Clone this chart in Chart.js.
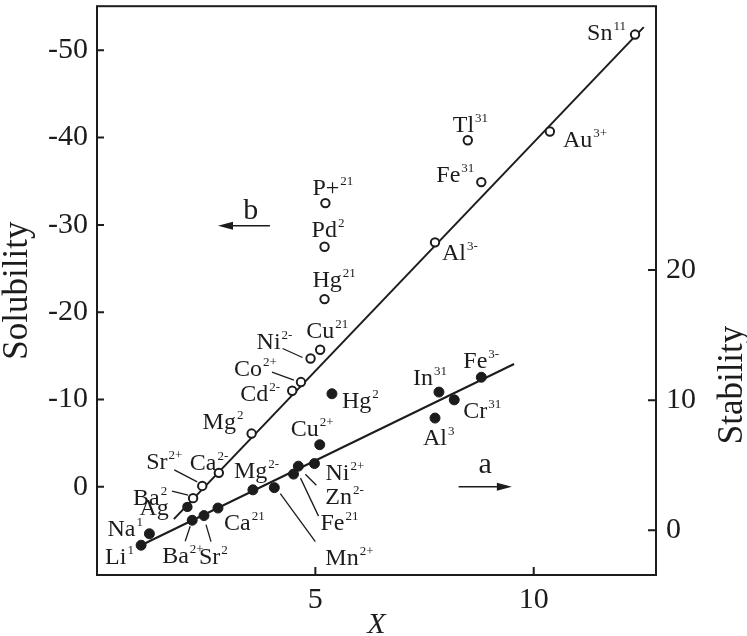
<!DOCTYPE html>
<html>
<head>
<meta charset="utf-8">
<script src="https://cdn.jsdelivr.net/npm/chart.js@4/dist/chart.umd.min.js"></script>
<style>
  html, body { margin: 0; padding: 0; background: #fff; }
</style>
</head>
<body>
<canvas id="chart" width="747" height="636"></canvas>
<script>
// line b (open circles) -> solubility, left axis
const solNames = ["Sn", "Au", "Tl", "Fe", "Al", "P+", "Pd", "Hg", "Cu", "Ni", "Co", "Cd", "Mg", "Ca", "Sr", "Ba", "Ag"];
const solCharges = ["11", "3+", "31", "31", "3-", "21", "2", "21", "21", "2-", "2+", "2-", "2", "2-", "2+", "2", ""];
const solX = [12.32, 10.37, 8.49, 8.80, 7.74, 5.23, 5.21, 5.21, 5.11, 4.89, 4.67, 4.47, 3.54, 2.79, 2.41, 2.20, 2.07];
const solY = [-51.8, -40.7, -39.7, -34.9, -28.0, -32.5, -27.5, -21.5, -15.7, -14.7, -12.0, -11.0, -6.1, -1.6, -0.1, 1.3, 2.3];

// line a (filled circles) -> stability, right axis
const stabNames = ["Li", "Na", "Ba", "Sr", "Ca", "Mg", "Mn", "Fe", "Zn", "Ni", "Cu", "Hg", "Al", "In", "Cr", "Fe"];
const stabCharges = ["1", "1", "2+", "2", "21", "2-", "2+", "21", "2-", "2+", "2+", "2", "3", "31", "31", "3-"];
const stabX = [1.01, 1.20, 2.18, 2.45, 2.77, 3.57, 4.06, 4.50, 4.61, 4.98, 5.10, 5.38, 7.74, 7.83, 8.18, 8.80];
const stabY = [-1.16, -0.28, 0.76, 1.12, 1.70, 3.10, 3.27, 4.31, 4.92, 5.12, 6.57, 10.49, 8.62, 10.62, 10.02, 11.76];

// fitted lines (end points)
const lineBX = [1.76, 12.52];
const lineBY = [3.7, -52.65];
const lineAX = [1.01, 9.55];
const lineAY = [-1.16, 12.78];

// tick labels
const xTicks = [5, 10];
const solTicks = [-50, -40, -30, -20, -10, 0];
const stabTicks = [0, 10, 20];

// label placement: [dx, dy] of text baseline from the point, optional leader line
const solLabelPos = [
  [-48, 5], [13, 16], [-15, -8], [-45, 0], [7, 18], [-13, -8], [-13, -10], [-12, -12],
  [-14, -12], [-54, -9, [-28, -10, -8, -1]], [-67, -6, [-29, -10, -7, -2]], [-52, 10],
  [-49, -5], [-29, -3], [-56, -17, [-28, -16, -5, -4]], [-60, 7, [-21, -7, -5, -3]], [-48, 8]
];
const stabLabelPos = [
  [-36, 19], [-42, 2], [-30, 43, [-7, 21, -2, 6]], [-5, 48, [7, 26, 2, 9]], [6, 22],
  [-19, -12], [51, 77, [41, 54, 6, 6]], [27, 56, [25, 42, 7, 4]], [27, 38, [18, 19, 7, 8]],
  [11, 16], [-29, -9], [10, 14], [-12, 27], [-26, -7], [9, 18], [-18, -9]
];

const ink = "#1c1c1c";
const serif = "'Liberation Serif', 'DejaVu Serif', serif";

function toPts(xs, ys) {
  return xs.map((x, i) => ({ x: x, y: ys[i] }));
}

function drawLabel(ctx, x, y, name, charge) {
  ctx.font = "24px " + serif;
  ctx.textAlign = "left";
  ctx.textBaseline = "alphabetic";
  ctx.fillText(name, x, y);
  const w = ctx.measureText(name).width;
  if (charge) {
    ctx.font = "13px " + serif;
    ctx.fillText(charge, x + w + 1, y - 10);
  }
}

function drawArrow(ctx, x0, x1, y) {
  const dir = x1 > x0 ? 1 : -1;
  ctx.lineWidth = 1.6;
  ctx.beginPath();
  ctx.moveTo(x0, y);
  ctx.lineTo(x1 - dir * 10, y);
  ctx.stroke();
  ctx.beginPath();
  ctx.moveTo(x1, y);
  ctx.lineTo(x1 - dir * 15, y - 4);
  ctx.lineTo(x1 - dir * 15, y + 4);
  ctx.closePath();
  ctx.fill();
}

// keep the plot box fixed: no extra room for half tick labels
function fixPad(s) {
  s.paddingTop = 0;
  s.paddingBottom = 0;
  s.paddingLeft = 0;
  s.paddingRight = 0;
}

const overlay = {
  id: "overlay",
  afterDatasetsDraw(chart) {
    const { ctx, chartArea: a, scales } = chart;
    const xs = scales.x, ys = scales.ySol, yt = scales.yStab;
    ctx.save();
    ctx.strokeStyle = ink;
    ctx.fillStyle = ink;

    // frame
    ctx.lineWidth = 2;
    ctx.strokeRect(a.left, a.top, a.right - a.left, a.bottom - a.top);

    // inward tick marks
    ctx.beginPath();
    solTicks.forEach(v => {
      const y = ys.getPixelForValue(v);
      ctx.moveTo(a.left, y);
      ctx.lineTo(a.left + 7, y);
    });
    stabTicks.forEach(v => {
      const y = yt.getPixelForValue(v);
      ctx.moveTo(a.right, y);
      ctx.lineTo(a.right - 8, y);
    });
    xTicks.forEach(v => {
      const x = xs.getPixelForValue(v);
      ctx.moveTo(x, a.bottom);
      ctx.lineTo(x, a.bottom - 8);
    });
    ctx.stroke();

    // leader lines + labels
    ctx.lineWidth = 1.3;
    solNames.forEach((n, i) => {
      const px = xs.getPixelForValue(solX[i]);
      const py = ys.getPixelForValue(solY[i]);
      const p = solLabelPos[i];
      if (p[2]) {
        ctx.beginPath();
        ctx.moveTo(px + p[2][0], py + p[2][1]);
        ctx.lineTo(px + p[2][2], py + p[2][3]);
        ctx.stroke();
      }
      drawLabel(ctx, px + p[0], py + p[1], n, solCharges[i]);
    });
    stabNames.forEach((n, i) => {
      const px = xs.getPixelForValue(stabX[i]);
      const py = yt.getPixelForValue(stabY[i]);
      const p = stabLabelPos[i];
      if (p[2]) {
        ctx.beginPath();
        ctx.moveTo(px + p[2][0], py + p[2][1]);
        ctx.lineTo(px + p[2][2], py + p[2][3]);
        ctx.stroke();
      }
      drawLabel(ctx, px + p[0], py + p[1], n, stabCharges[i]);
    });

    // direction arrows
    drawArrow(ctx, xs.getPixelForValue(3.96), xs.getPixelForValue(2.77), ys.getPixelForValue(-29.9));
    drawArrow(ctx, xs.getPixelForValue(8.28), xs.getPixelForValue(9.5), ys.getPixelForValue(0));
    ctx.font = "30px " + serif;
    ctx.textAlign = "center";
    ctx.textBaseline = "alphabetic";
    ctx.fillText("b", xs.getPixelForValue(3.52), ys.getPixelForValue(-30.7));
    ctx.fillText("a", xs.getPixelForValue(8.89), ys.getPixelForValue(-1.63));

    // axis titles
    ctx.font = "35px " + serif;
    ctx.textBaseline = "middle";
    ctx.save();
    ctx.translate(18, (a.top + a.bottom) / 2);
    ctx.rotate(-Math.PI / 2);
    ctx.fillText("Solubility", 0, 0);
    ctx.restore();
    ctx.save();
    ctx.translate(733, 385);
    ctx.rotate(-Math.PI / 2);
    ctx.fillText("Stability", 0, 0);
    ctx.restore();
    ctx.font = "italic 30px " + serif;
    ctx.textBaseline = "alphabetic";
    ctx.fillText("X", (a.left + a.right) / 2, 633);
    ctx.restore();
  }
};

const tickFont = { family: serif, size: 30 };
const noGrid = { display: false, drawTicks: false };

new Chart(document.getElementById("chart"), {
  type: "scatter",
  data: {
    datasets: [
      {
        label: "b",
        data: toPts(solX, solY),
        yAxisID: "ySol",
        order: 0,
        pointRadius: 4.2,
        pointBorderWidth: 2,
        pointBorderColor: ink,
        pointBackgroundColor: ctx => solNames[ctx.dataIndex] === "Ag" ? ink : "#fff",
      },
      {
        label: "a",
        data: toPts(stabX, stabY),
        yAxisID: "yStab",
        order: 0,
        pointRadius: 5,
        pointBorderWidth: 1,
        pointBorderColor: ink,
        pointBackgroundColor: ink,
      },
      {
        label: "fit b",
        data: toPts(lineBX, lineBY),
        yAxisID: "ySol",
        order: 1,
        showLine: true,
        borderColor: ink,
        borderWidth: 2,
        pointRadius: 0,
      },
      {
        label: "fit a",
        data: toPts(lineAX, lineAY),
        yAxisID: "yStab",
        order: 1,
        showLine: true,
        borderColor: ink,
        borderWidth: 2,
        pointRadius: 0,
      },
    ],
  },
  options: {
    responsive: false,
    animation: false,
    events: [],
    layout: { padding: { top: 1 } },
    plugins: {
      legend: { display: false },
      tooltip: { enabled: false },
    },
    scales: {
      x: {
        type: "linear",
        position: "bottom",
        min: 0,
        max: 12.8,
        grid: noGrid,
        border: { display: false },
        ticks: { font: tickFont, color: ink, padding: 7, maxRotation: 0 },
        afterBuildTicks: s => { s.ticks = xTicks.map(v => ({ value: v })); },
        afterFit: s => { s.height = 61; fixPad(s); },
      },
      ySol: {
        type: "linear",
        position: "left",
        reverse: true,
        min: -55.05,
        max: 10.1,
        grid: noGrid,
        border: { display: false },
        ticks: { font: tickFont, color: ink, padding: 9, callback: v => String(v) },
        afterBuildTicks: s => { s.ticks = solTicks.map(v => ({ value: v })); },
        afterFit: s => { s.width = 97; fixPad(s); },
      },
      yStab: {
        type: "linear",
        position: "right",
        min: -3.45,
        max: 40.3,
        grid: noGrid,
        border: { display: false },
        ticks: { font: tickFont, color: ink, padding: 10, callback: v => String(v) },
        afterBuildTicks: s => { s.ticks = stabTicks.map(v => ({ value: v })); },
        afterFit: s => { s.width = 91; fixPad(s); },
      },
    },
  },
  plugins: [overlay],
});
</script>
</body>
</html>
